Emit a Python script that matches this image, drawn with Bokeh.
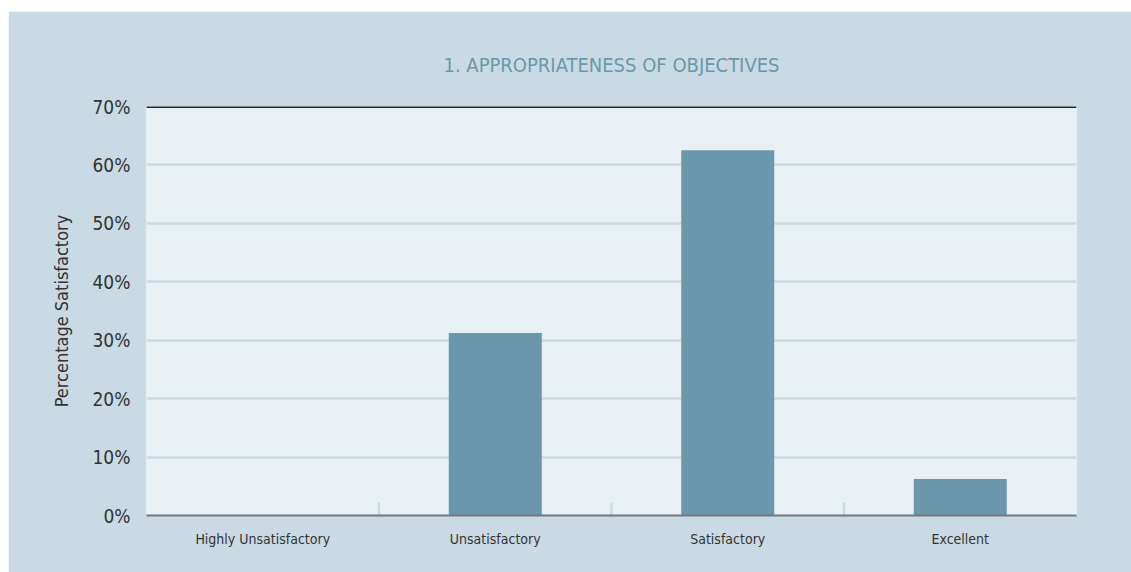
from bokeh.plotting import figure
from bokeh.models import ColumnDataSource, NumeralTickFormatter, Span, FactorRange
from bokeh.transform import dodge
from bokeh.embed import file_html
from bokeh.resources import INLINE

categories = ["Highly Unsatisfactory", "Unsatisfactory", "Satisfactory", "Excellent"]
values = [0.0, 0.3125, 0.625, 0.0625]
y_ticks = [0.0, 0.1, 0.2, 0.3, 0.4, 0.5, 0.6, 0.7]
title_text = "1. APPROPRIATENESS OF OBJECTIVES"
y_label = "Percentage Satisfactory"

FONT = "'DejaVu Sans Condensed', sans-serif"
PANEL = "#c9dae4"
PLOT_BG = "#e8f0f4"
BAR = "#6a97ab"
TEXT = "#333333"

p = figure(
    x_range=FactorRange(*categories, range_padding=0),
    y_range=(y_ticks[0], y_ticks[-1]),
    width=1123, height=561,
    output_backend="svg", toolbar_location=None,
    margin=(11, 0, 0, 8),
    min_border_left=138, min_border_right=55,
    min_border_top=95, min_border_bottom=57,
    title=title_text,
)
p.background_fill_color = PLOT_BG
p.border_fill_color = PANEL
p.outline_line_color = None

p.title.align = "center"
p.title.text_font = FONT
p.title.text_font_size = "20px"
p.title.text_font_style = "normal"
p.title.text_color = "#6a98ac"
p.title.standoff = 60

src = ColumnDataSource(dict(cat=categories, val=values))
p.vbar(x="cat", top="val", width=0.4, source=src, fill_color=BAR, line_color=None)

# category separators (small ticks between categories)
sep = ColumnDataSource(dict(cat=categories[1:], y=[0.0] * (len(categories) - 1)))
p.scatter(x=dodge("cat", -0.5, range=p.x_range), y="y", source=sep,
          marker="dash", angle=1.5708, size=26, line_color=PANEL, line_width=2.5)

# top line at maximum
p.add_layout(Span(location=y_ticks[-1], dimension="width", line_color="#222222", line_width=3))

p.yaxis.ticker = y_ticks
p.yaxis.formatter = NumeralTickFormatter(format="0%")
p.yaxis.axis_line_color = None
p.yaxis.major_tick_line_color = None
p.yaxis.minor_tick_line_color = None
p.yaxis.major_label_text_font = FONT
p.yaxis.major_label_text_font_size = "19px"
p.yaxis.major_label_text_color = TEXT
p.yaxis.major_label_standoff = 10
p.yaxis.axis_label = y_label
p.yaxis.axis_label_text_font = FONT
p.yaxis.axis_label_text_font_size = "18px"
p.yaxis.axis_label_text_font_style = "normal"
p.yaxis.axis_label_text_color = TEXT
p.yaxis.axis_label_standoff = 18

p.xaxis.axis_line_color = "#777777"
p.xaxis.axis_line_width = 2
p.xaxis.major_tick_line_color = None
p.xaxis.minor_tick_line_color = None
p.xaxis.major_label_text_font = FONT
p.xaxis.major_label_text_font_size = "14px"
p.xaxis.major_label_text_color = TEXT
p.xaxis.major_label_standoff = 9

p.xgrid.grid_line_color = None
p.ygrid.grid_line_color = PANEL
p.ygrid.grid_line_width = 2.5

open("out.html", "w").write(file_html(p, INLINE))
